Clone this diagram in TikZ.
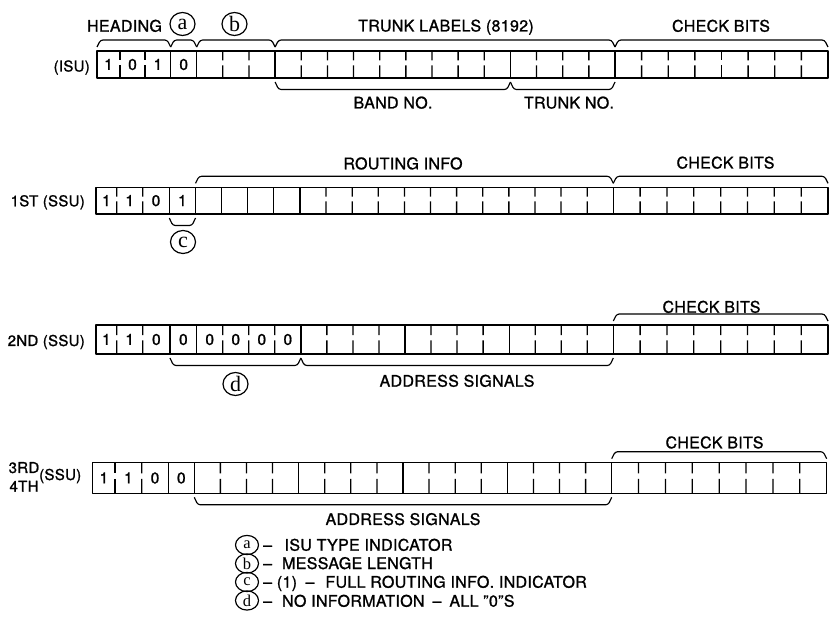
\documentclass[tikz,border=0pt]{standalone}
\usepackage{fontspec}
\setmainfont[FakeBold=1.2,LetterSpace=2]{TeX Gyre Heros}
\newfontfamily\circfont{Liberation Serif}
\usetikzlibrary{calc,shapes.geometric}

% row of 28 cells: #1 name, #2 top, #3 bottom, #4..#8 x of k=0..4, #9 x of k=20; right edge in \rowR
\newcommand\mkrow[9]{%
  \coordinate (#1t0) at (#4,#2); \coordinate (#1b0) at (#4,#3);
  \coordinate (#1t1) at (#5,#2); \coordinate (#1b1) at (#5,#3);
  \coordinate (#1t2) at (#6,#2); \coordinate (#1b2) at (#6,#3);
  \coordinate (#1t3) at (#7,#2); \coordinate (#1b3) at (#7,#3);
  \foreach \k in {4,...,20}{%
    \pgfmathsetmacro\xx{#8+(\k-4)*(#9-#8)/16}%
    \coordinate (#1t\k) at (\xx,#2); \coordinate (#1b\k) at (\xx,#3);}%
  \foreach \k in {21,...,28}{%
    \pgfmathsetmacro\xx{#9+(\k-20)*(\rowR-#9)/8}%
    \coordinate (#1t\k) at (\xx,#2); \coordinate (#1b\k) at (\xx,#3);}%
  \draw[gridline] (#1t0) rectangle (#1b28);
}
\newcommand\fulldivs[2]{\foreach \k in {#2}{\draw[gridline] (#1t\k) -- (#1b\k);}}
\newcommand\tickdivs[2]{\foreach \k in {#2}{\draw[gridline] (#1t\k) -- ($(#1t\k)!0.35!(#1b\k)$) ($(#1t\k)!0.53!(#1b\k)$) -- (#1b\k);}}
\newcommand\topbr[2]{\draw[brk] ($(#1)+(0,-4)$) -- ($(#1)+(3.5,-11)$) -- ($(#2)+(-3.5,-11)$) -- ($(#2)+(0,-4)$);}
\newcommand\botbr[2]{\draw[brk] ($(#1)+(0,4)$) -- ($(#1)+(3.5,11.5)$) -- ($(#2)+(-3.5,11.5)$) -- ($(#2)+(0,4)$);}
\newcommand\putbits[2]{%
  \foreach \d [count=\i] in {#2}{%
    \pgfmathtruncatemacro\j{\i-1}%
    \path ($(#1t\j)!0.5!(#1b\i)$) coordinate (#1c\i);
    \node[bit,anchor=base] (#1d\i) at ($(#1c\i)+(0,5.4)$) {\d};}}

\begin{document}
\begin{tikzpicture}[x=1pt,y=-1pt,line join=round,
  gridline/.style={line width=1.3pt},
  brk/.style={line width=1.15pt,rounded corners=2.5pt},
  lbl/.style={inner sep=0pt,font=\fontsize{16}{19}\selectfont},
  rowlbl/.style={inner sep=0pt,font=\fontsize{15}{18}\selectfont},
  bit/.style={inner sep=0pt,font=\fontsize{15.5}{18}\selectfont},
  circl/.style={ellipse,draw,line width=1.2pt,minimum width=25pt,minimum height=23pt,inner sep=0pt,font=\circfont\fontsize{22}{22}\selectfont},
  lletter/.style={inner sep=0pt,font=\circfont\fontsize{16.5}{17}\selectfont},
  lring/.style={line width=1.2pt}]

\useasboundingbox (0,0) rectangle (831,644);

% ---------- row 1 (ISU)
\def\rowR{828}
\mkrow{ra}{51}{78}{97}{120}{145}{170.7}{196.7}{615}
\fulldivs{ra}{3,4,7,16,20}
\tickdivs{ra}{1,2,5,6,8,9,10,11,12,13,14,15,17,18,19,21,22,23,24,25,26,27}
\putbits{ra}{1,0,1,0}
\topbr{rat0}{rat3}\topbr{rat3}{rat4}\topbr{rat4}{rat7}\topbr{rat7}{rat20}\topbr{rat20}{rat28}
\botbr{rab7}{rab16}\botbr{rab16}{rab20}
\node[lbl,anchor=base] (hd) at (124.5,31.7) {HEADING};
\node[circl] (ca) at (182.5,24) {a};
\node[circl] (cb) at (234.5,24) {b};
\node[lbl,anchor=base] (tl) at (446,31.5) {TRUNK LABELS (8192)};
\node[lbl,anchor=base] (cb1) at (721,31.7) {CHECK BITS};
\node[lbl,anchor=base] (bn) at (393,108.5) {BAND NO.};
\node[lbl,anchor=base] (tn) at (569,108.5) {TRUNK NO.};
\node[rowlbl,anchor=base east] (lisu) at (90,71.5) {(ISU)};

% ---------- row 2 (1ST SSU)
\def\rowR{828}
\mkrow{rb}{187.3}{214}{96}{116.7}{142.7}{169.3}{195.5}{613.3}
\fulldivs{rb}{3,4,5,6,7,8,20}
\tickdivs{rb}{1,2,9,10,11,12,13,14,15,16,17,18,19,21,22,23,24,25,26,27}
\putbits{rb}{1,1,0,1}
\topbr{rbt4}{rbt20}\topbr{rbt20}{rbt28}
\botbr{rbb3}{rbb4}
\node[lbl,anchor=base] (ri) at (403,169.3) {ROUTING INFO};
\node[lbl,anchor=base] (cb2) at (725.5,168.5) {CHECK BITS};
\node[circl] (cc) at (183,242) {c};
\node[rowlbl,anchor=base east] (l1st) at (85,206.3) {1ST (SSU)};

% ---------- row 3 (2ND SSU)
\def\rowR{828}
\mkrow{rc}{325}{354}{96}{116.7}{142.7}{170}{196.7}{613.3}
\fulldivs{rc}{3,4,8,12,16,20}
\tickdivs{rc}{1,2,5,6,7,9,10,11,13,14,15,17,18,19,21,22,23,24,25,26,27}
\putbits{rc}{1,1,0,0,0,0,0,0}
\topbr{rct20}{rct28}
\botbr{rcb3}{rcb8}\botbr{rcb8}{rcb20}
\node[lbl,anchor=base] (cb3) at (711.5,312.7) {CHECK BITS};
\node[circl] (cd) at (235.5,384) {d};
\node[lbl,anchor=base] (as3) at (457,386.7) {ADDRESS SIGNALS};
\node[rowlbl,anchor=base east] (l2nd) at (85,346) {2ND (SSU)};

% ---------- row 4 (3RD/4TH SSU)
\def\rowR{826.7}
\mkrow{rd}{462.7}{493.3}{92.7}{115}{141.7}{168.3}{194.3}{611.7}
\fulldivs{rd}{3,4,8,12,16,20}
\tickdivs{rd}{1,2,5,6,7,9,10,11,13,14,15,17,18,19,21,22,23,24,25,26,27}
\putbits{rd}{1,1,0,0}
\topbr{rdt20}{rdt28}
\botbr{rdb4}{rdb20}
\node[lbl,anchor=base] (cb4) at (714.5,448.3) {CHECK BITS};
\node[lbl,anchor=base] (as4) at (403,525) {ADDRESS SIGNALS};
\node[rowlbl,anchor=base] (l3rd) at (24,473) {3RD};
\node[rowlbl,anchor=base] (l4th) at (24,491.7) {4TH};
\node[rowlbl,anchor=base west] (lssu) at (39,480) {(SSU)};

% ---------- legend
\foreach \nm/\lt/\yy in {la/a/545,lb/b/563.5,lc/c/582,ld/d/600.5}{
  \coordinate (\nm o) at (247,\yy);
  \draw[lring] (\nm o) ellipse [x radius=11.5, y radius=9.6];
  \node[lletter] (\nm) at (\nm o) {\lt};
}
\node[lbl,anchor=base west] (ta) at (263,550.7) {–\hspace{12.5pt}ISU TYPE INDICATOR};
\node[lbl,anchor=base west] (tb) at (263,569) {–\hspace{10pt}MESSAGE LENGTH};
\node[lbl,anchor=base west] (tc) at (263,587.7) {– (1)\hspace{8.5pt}–\hspace{11pt}FULL ROUTING INFO. INDICATOR};
\node[lbl,anchor=base west] (td) at (263,606.7) {–\hspace{10pt}NO INFORMATION\hspace{8pt}–\hspace{8pt}ALL "0"S};
\end{tikzpicture}
\end{document}
